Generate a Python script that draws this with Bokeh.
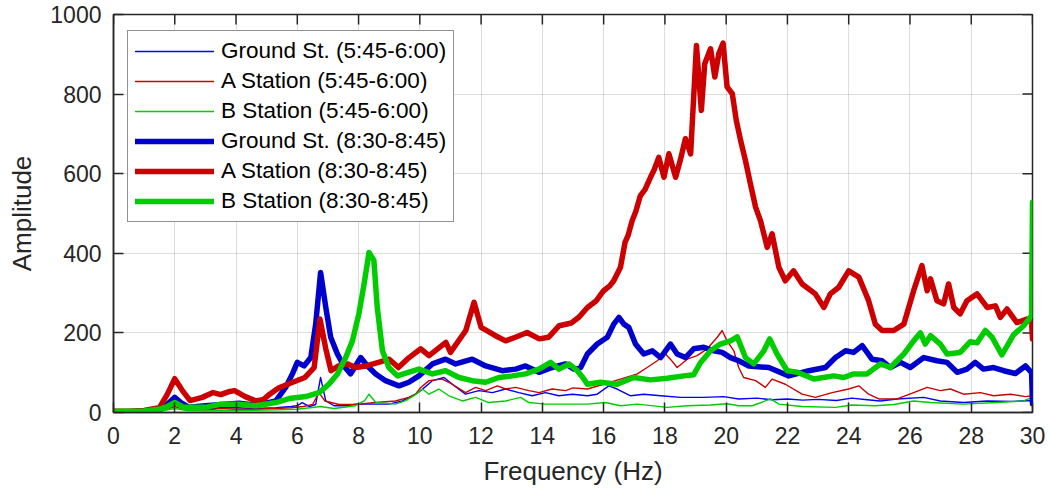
import math
from bokeh.plotting import figure
from bokeh.models import Legend, LegendItem, FixedTicker, Range1d
from bokeh.embed import file_html
from bokeh.resources import INLINE

# ---------------- data ----------------
x_ticks = list(range(0, 31, 2))
y_ticks = [0, 200, 400, 600, 800, 1000]

series_names = [
    "Ground St. (5:45-6:00)",
    "A Station (5:45-6:00)",
    "B Station (5:45-6:00)",
    "Ground St. (8:30-8:45)",
    "A Station (8:30-8:45)",
    "B Station (8:30-8:45)",
]

ground_545 = [(0, 1), (1.0, 2), (1.5, 5), (1.8, 12), (2.0, 20), (2.3, 10), (3.0, 8), (3.5, 12),
              (4.0, 12), (4.6, 10), (5.3, 12), (5.8, 15), (6.0, 17), (6.16, 25), (6.4, 15), (6.6, 20),
              (6.76, 88), (6.93, 29), (7.2, 17), (7.63, 17), (7.9, 21), (8.45, 21), (8.99, 21),
              (9.43, 29), (9.86, 46), (10.03, 55), (10.41, 80), (10.79, 88), (11.06, 71), (11.49, 46),
              (11.93, 55), (12.37, 50), (12.8, 59), (13.23, 50), (13.67, 42), (14.1, 50), (14.54, 42),
              (14.98, 46), (15.47, 42), (15.79, 46), (16.17, 67), (16.44, 59), (16.88, 42), (17.31, 46),
              (17.86, 42), (18.51, 38), (19.27, 38), (19.92, 40), (20.41, 34), (21.0, 36), (21.5, 32),
              (22.0, 34), (22.5, 31), (23.0, 33), (23.6, 30), (24.1, 36), (24.6, 32), (25.03, 29),
              (25.58, 34), (26.45, 38), (26.99, 29), (27.75, 25), (28.52, 29), (29.38, 28),
              (29.98, 30), (30.0, 20)]

a_545 = [(0, 1), (1.0, 2), (1.5, 5), (1.8, 10), (2.0, 15), (2.3, 8), (3.0, 6), (3.5, 10), (4.0, 8),
         (4.6, 8), (5.3, 10), (5.8, 12), (6.2, 15), (6.5, 20), (6.71, 50), (6.9, 29), (7.36, 20),
         (7.9, 20), (8.56, 25), (9.2, 29), (9.64, 38), (9.86, 46), (10.03, 63), (10.3, 80),
         (10.73, 84), (11.06, 71), (11.49, 50), (11.82, 63), (12.15, 55), (12.53, 67), (12.8, 59),
         (13.13, 63), (13.56, 55), (13.89, 50), (14.32, 59), (14.76, 55), (15.0, 62), (15.47, 59),
         (16.0, 71), (16.55, 84), (17.1, 97), (17.42, 113), (17.75, 130), (18.02, 147), (18.18, 134),
         (18.4, 113), (18.73, 134), (19.05, 143), (19.38, 160), (19.71, 189), (19.87, 206),
         (20.03, 180), (20.25, 155), (20.41, 113), (20.57, 88), (20.96, 80), (21.28, 63), (21.5, 84),
         (21.93, 71), (22.48, 46), (22.91, 38), (23.46, 50), (24.0, 59), (24.33, 67), (24.65, 46),
         (24.98, 34), (25.58, 34), (26.12, 50), (26.56, 63), (26.99, 55), (27.32, 59), (27.75, 46),
         (28.3, 50), (28.73, 42), (29.28, 46), (29.77, 40), (30.0, 42)]

b_545 = [(0, 1), (1.0, 1), (1.5, 3), (2.0, 10), (2.4, 5), (3.0, 4), (4.0, 5), (5.0, 6), (6.0, 8),
         (6.75, 15), (7.2, 10), (7.9, 17), (8.2, 30), (8.34, 46), (8.56, 25), (9.2, 21), (9.54, 30),
         (9.86, 45), (10.08, 59), (10.3, 46), (10.62, 59), (10.95, 42), (11.39, 29), (11.82, 38),
         (12.25, 25), (12.8, 29), (13.29, 38), (13.56, 25), (14.1, 21), (14.76, 21), (15.47, 21),
         (16.06, 25), (16.55, 17), (17.1, 21), (18.07, 13), (18.73, 17), (19.49, 19), (20.03, 22),
         (20.41, 17), (20.85, 17), (21.45, 34), (21.72, 21), (22.48, 15), (23.57, 13), (24.1, 19),
         (24.87, 17), (25.47, 20), (26.12, 29), (26.67, 25), (27.75, 21), (28.84, 25), (29.71, 29),
         (29.98, 38)]

ground_830 = [(0, 2), (0.5, 2), (1.0, 3), (1.5, 6), (1.75, 20), (2.0, 38), (2.2, 25), (2.47, 13),
              (3.0, 17), (3.66, 21), (4.1, 23), (4.64, 18), (5.3, 29), (5.62, 63), (5.84, 97),
              (6.0, 126), (6.22, 117), (6.44, 138), (6.6, 222), (6.76, 352), (6.93, 264), (7.09, 189),
              (7.31, 147), (7.52, 117), (7.74, 97), (7.9, 117), (8.07, 138), (8.29, 117), (8.56, 97),
              (8.88, 80), (9.32, 67), (9.64, 76), (9.97, 92), (10.41, 122), (10.84, 134),
              (11.17, 122), (11.71, 134), (12.15, 117), (12.69, 105), (13.13, 109), (13.45, 117),
              (13.89, 101), (14.32, 113), (14.76, 122), (15.03, 109), (15.25, 113), (15.47, 147),
              (15.79, 172), (16.12, 189), (16.33, 222), (16.5, 239), (16.66, 222), (16.82, 214),
              (17.04, 172), (17.31, 147), (17.59, 155), (17.86, 138), (18.18, 172), (18.4, 147),
              (18.67, 138), (18.94, 160), (19.27, 164), (19.6, 155), (19.87, 151), (20.14, 138),
              (20.41, 130), (20.74, 117), (21.39, 113), (22.04, 92), (22.7, 105), (23.24, 113),
              (23.57, 138), (23.9, 155), (24.16, 151), (24.44, 168), (24.76, 134), (25.09, 130),
              (25.36, 113), (25.69, 126), (26.01, 113), (26.45, 138), (26.88, 130), (27.21, 126),
              (27.54, 101), (27.86, 109), (28.13, 126), (28.4, 109), (28.73, 113), (29.06, 105),
              (29.44, 98), (29.77, 117), (29.97, 100), (30.0, 22)]

a_830 = [(0, 3), (0.5, 3), (1.0, 5), (1.5, 12), (1.75, 45), (2.0, 85), (2.25, 55), (2.5, 30),
         (2.9, 38), (3.25, 50), (3.5, 45), (3.75, 52), (3.95, 55), (4.3, 40), (4.65, 29), (4.9, 33),
         (5.1, 46), (5.4, 62), (5.85, 76), (6.25, 88), (6.55, 113), (6.74, 235), (6.93, 160),
         (7.1, 105), (7.35, 117), (7.65, 122), (7.9, 113), (8.25, 117), (8.65, 126), (9.0, 134),
         (9.3, 113), (9.65, 138), (10.03, 160), (10.3, 143), (10.85, 176), (11.0, 151), (11.5, 206),
         (11.77, 277), (12.0, 214), (12.47, 193), (12.8, 180), (13.12, 189), (13.5, 201),
         (13.9, 185), (14.2, 189), (14.55, 218), (14.95, 225), (15.2, 240), (15.47, 264),
         (15.75, 280), (16.0, 306), (16.2, 318), (16.33, 331), (16.55, 365), (16.7, 428),
         (16.8, 445), (16.93, 482), (17.05, 505), (17.2, 545), (17.35, 560), (17.53, 591),
         (17.65, 610), (17.8, 641), (17.97, 591), (18.13, 650), (18.35, 591), (18.5, 633),
         (18.67, 688), (18.84, 650), (19.03, 922), (19.19, 759), (19.3, 876), (19.49, 914),
         (19.63, 843), (19.76, 902), (19.9, 928), (20.03, 818), (20.2, 801), (20.33, 734),
         (20.47, 684), (20.63, 633), (20.79, 575), (20.96, 516), (21.12, 482), (21.34, 415),
         (21.5, 449), (21.72, 365), (21.93, 331), (22.2, 356), (22.48, 323), (22.91, 298),
         (23.19, 264), (23.4, 298), (23.67, 314), (24.0, 356), (24.33, 340), (24.65, 281),
         (24.87, 222), (25.09, 206), (25.47, 206), (25.8, 222), (26.12, 306), (26.39, 369),
         (26.56, 306), (26.67, 336), (26.88, 281), (27.1, 273), (27.26, 323), (27.43, 264),
         (27.64, 248), (27.86, 281), (28.19, 298), (28.52, 264), (28.79, 268), (28.95, 239),
         (29.17, 260), (29.49, 226), (29.82, 235), (29.97, 225), (30.0, 185)]

b_830 = [(0, 3), (0.5, 3), (1.0, 4), (1.49, 8), (1.75, 15), (2.0, 25), (2.3, 13), (3.0, 13),
         (3.5, 21), (4.1, 21), (4.64, 17), (5.3, 25), (5.73, 35), (6.27, 40), (6.71, 50), (7.03, 71),
         (7.31, 97), (7.58, 138), (7.8, 180), (8.01, 248), (8.18, 323), (8.34, 402), (8.5, 382),
         (8.61, 264), (8.78, 155), (8.99, 113), (9.27, 92), (9.54, 99), (9.97, 109), (10.41, 97),
         (10.84, 105), (11.28, 88), (11.71, 80), (12.15, 76), (12.58, 88), (13.02, 92), (13.45, 97),
         (13.89, 109), (14.27, 126), (14.54, 109), (14.87, 122), (15.14, 105), (15.3, 90),
         (15.47, 71), (15.9, 76), (16.44, 71), (16.98, 88), (17.53, 82), (18.07, 86), (18.62, 92),
         (18.94, 95), (19.16, 125), (19.49, 155), (19.81, 172), (20.14, 180), (20.36, 190),
         (20.63, 138), (20.9, 122), (21.23, 155), (21.42, 185), (21.66, 147), (21.99, 105),
         (22.32, 101), (22.86, 84), (23.18, 88), (23.51, 92), (23.84, 88), (24.16, 97), (24.6, 97),
         (25.03, 122), (25.36, 113), (25.8, 147), (26.12, 180), (26.34, 200), (26.5, 172),
         (26.67, 193), (26.99, 172), (27.21, 147), (27.64, 151), (27.97, 178), (28.19, 175),
         (28.46, 206), (28.68, 189), (29.0, 145), (29.38, 195), (29.71, 218), (29.85, 231),
         (29.97, 244), (30.0, 528)]

series_data = [ground_545, a_545, b_545, ground_830, a_830, b_830]
series_colors = ["#0000FF", "#CC0000", "#00CC00", "#0000CC", "#CC0000", "#00CC00"]
series_widths = [1.4, 1.4, 1.4, 5.5, 5.5, 5.5]

FONT = "Liberation Sans"
DARK = "#262626"

p = figure(width=1050, height=492, x_range=Range1d(x_ticks[0], x_ticks[-1]),
           y_range=Range1d(y_ticks[0], y_ticks[-1]),
           output_backend="svg", toolbar_location=None,
           min_border_left=113, min_border_right=18, min_border_top=14, min_border_bottom=80)
p.background_fill_color = "white"
p.border_fill_color = "white"
p.outline_line_color = DARK
p.outline_line_width = 1.5

p.xaxis.ticker = FixedTicker(ticks=x_ticks)
p.yaxis.ticker = FixedTicker(ticks=y_ticks)
for ax in (p.xaxis[0], p.yaxis[0]):
    ax.axis_line_color = DARK
    ax.axis_line_width = 1.5
    ax.major_tick_in = 10
    ax.major_tick_out = 0
    ax.major_tick_line_color = DARK
    ax.major_tick_line_width = 1.5
    ax.minor_tick_line_color = None
    ax.major_label_text_font = FONT
    ax.major_label_text_font_size = "23px"
    ax.major_label_text_color = DARK
    ax.axis_label_text_font = FONT
    ax.axis_label_text_font_size = "26px"
    ax.axis_label_text_font_style = "normal"
    ax.axis_label_text_color = DARK
p.xaxis.axis_label = "Frequency (Hz)"
p.yaxis.axis_label = "Amplitude"
p.xaxis.major_label_standoff = 14
p.yaxis.major_label_standoff = 12
p.xaxis.axis_label_standoff = 9
p.yaxis.axis_label_standoff = 10

p.grid.grid_line_color = "#000000"
p.grid.grid_line_alpha = 0.13
p.grid.grid_line_width = 1
p.xgrid.ticker = FixedTicker(ticks=x_ticks)
p.ygrid.ticker = FixedTicker(ticks=y_ticks)

# inward ticks on the top and right edges of the box (clipped to the frame)
p.scatter(x=x_ticks, y=[y_ticks[-1]] * len(x_ticks), marker="dash", angle=math.pi / 2,
          size=20, line_color=DARK, line_width=1.5)
p.scatter(x=[x_ticks[-1]] * len(y_ticks), y=y_ticks, marker="dash", angle=0,
          size=20, line_color=DARK, line_width=1.5)

items = []
for name, data, col, lw in zip(series_names, series_data, series_colors, series_widths):
    xs = [d[0] for d in data]
    ys = [d[1] for d in data]
    r = p.line(xs, ys, line_color=col, line_width=lw, line_join="round", line_cap="round")
    items.append(LegendItem(label=name, renderers=[r]))

legend = Legend(items=items, location=(14, 190))
legend.margin = 0
legend.padding = 7
legend.spacing = 4
legend.glyph_width = 79
legend.glyph_height = 24
legend.label_height = 24
legend.label_standoff = 7
legend.label_text_font = FONT
legend.label_text_font_size = "22.5px"
legend.label_text_color = "#000000"
legend.border_line_color = DARK
legend.border_line_width = 1
legend.background_fill_color = "white"
legend.background_fill_alpha = 1
p.add_layout(legend)

open("out.html", "w").write(file_html(p, INLINE))
